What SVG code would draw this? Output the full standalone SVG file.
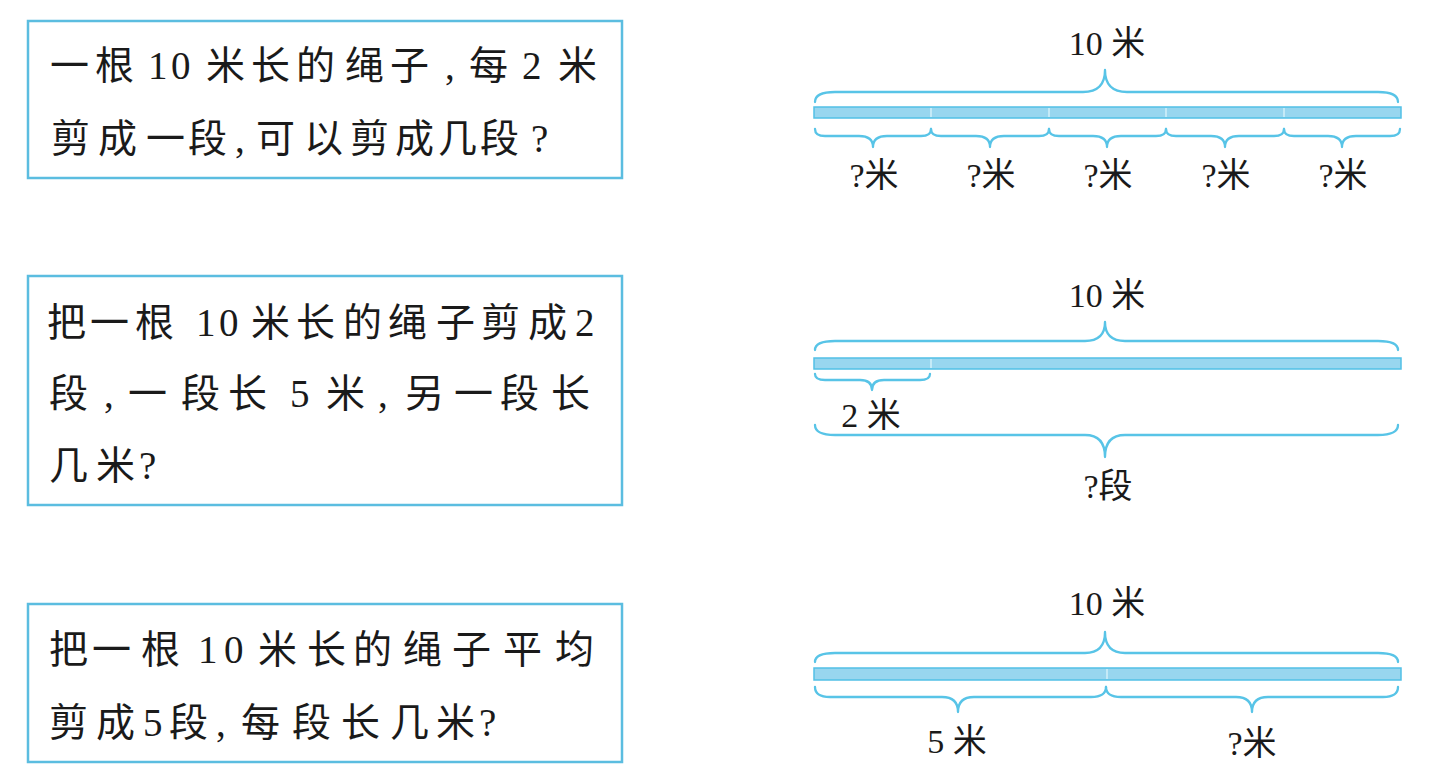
<svg xmlns="http://www.w3.org/2000/svg" width="1441" height="780" viewBox="0 0 1441 780">
<style>
.box{fill:#ffffff;stroke:#5bbde0;stroke-width:2.5}
.q{font-family:"Liberation Serif","Noto Sans CJK SC",serif;font-size:39px;fill:#1a1a1a}
.lbl{font-family:"Liberation Serif","Noto Sans CJK SC",serif;font-size:34px;fill:#1a1a1a;text-anchor:middle}
.bar{fill:#98d6ef;stroke:#52c0e6;stroke-width:1.5}
.div{stroke:#d4f0fa;stroke-width:1.5}
.brace{fill:none;stroke:#58c4e7;stroke-width:2.3;stroke-linecap:round;stroke-linejoin:round}
</style>
<rect width="1441" height="780" fill="#ffffff"/>

<g id="problem1">
<rect class="box" x="28" y="21" width="594" height="157"/>
<text class="q" y="79" x="50 95 148 171 206 251 296 345 390 445 469 522 558">一根10米长的绳子,每2米</text>
<text class="q" y="152" x="51 98 146 188 235 256 304 350 395 438 480 531">剪成一段,可以剪成几段?</text>
</g>

<g id="problem2">
<rect class="box" x="28" y="276" width="594" height="229"/>
<text class="q" y="336" x="47 90 135 196 219 251 296 343 388 436 481 528 575">把一根10米长的绳子剪成2</text>
<text class="q" y="407" x="49 104 128 181 228 290 326 378 405 454 500 551">段,一段长5米,另一段长</text>
<text class="q" y="479" x="49 96 139">几米?</text>
</g>

<g id="problem3">
<rect class="box" x="28" y="604" width="594" height="158"/>
<text class="q" y="663" x="49 92 141 198 224 258 307 353 403 452 503 555">把一根10米长的绳子平均</text>
<text class="q" y="736" x="49 96 143 169 216 241 292 341 390 436 479">剪成5段,每段长几米?</text>
</g>

<g id="diagram1">
<rect class="bar" x="814" y="107" width="587" height="11"/>
<line class="div" x1="931" y1="108" x2="931" y2="117"/>
<line class="div" x1="1049" y1="108" x2="1049" y2="117"/>
<line class="div" x1="1166" y1="108" x2="1166" y2="117"/>
<line class="div" x1="1284" y1="108" x2="1284" y2="117"/>
<text class="lbl" x="1107" y="55">10 米</text>
<text class="lbl" x="874" y="187">?米</text>
<text class="lbl" x="991" y="187">?米</text>
<text class="lbl" x="1108" y="187">?米</text>
<text class="lbl" x="1226" y="187">?米</text>
<text class="lbl" x="1343" y="187">?米</text>
</g>

<g id="diagram2">
<rect class="bar" x="814" y="358" width="587" height="11"/>
<line class="div" x1="931" y1="359" x2="931" y2="368"/>
<text class="lbl" x="1107" y="307">10 米</text>
<text class="lbl" x="871" y="427">2 米</text>
<text class="lbl" x="1108" y="498">?段</text>
</g>

<g id="diagram3">
<rect class="bar" x="814" y="668" width="587" height="12"/>
<line class="div" x1="1107" y1="669" x2="1107" y2="679"/>
<text class="lbl" x="1107" y="615">10 米</text>
<text class="lbl" x="957" y="753">5 米</text>
<text class="lbl" x="1252" y="755">?米</text>
</g>

<g id="connectors">
<path class="brace" d="M815,102 Q815,92 835,92 L1083,92 Q1105,92 1105,70 Q1105,92 1127,92 L1378,92 Q1398,92 1398,102"/>
<path class="brace" d="M815,129 Q815,136 825,136 L859,136 Q873,136 873,147 Q873,136 887,136 L921,136 Q931,136 931,129"/>
<path class="brace" d="M931,129 Q931,136 941,136 L976,136 Q990,136 990,147 Q990,136 1004,136 L1039,136 Q1049,136 1049,129"/>
<path class="brace" d="M1049,129 Q1049,136 1059,136 L1093,136 Q1107,136 1107,147 Q1107,136 1121,136 L1156,136 Q1166,136 1166,129"/>
<path class="brace" d="M1166,129 Q1166,136 1176,136 L1211,136 Q1225,136 1225,147 Q1225,136 1239,136 L1274,136 Q1284,136 1284,129"/>
<path class="brace" d="M1284,129 Q1284,136 1294,136 L1328,136 Q1342,136 1342,147 Q1342,136 1356,136 L1390,136 Q1400,136 1400,129"/>

<path class="brace" d="M815,350 Q815,341 835,341 L1085,341 Q1105,341 1105,322 Q1105,341 1125,341 L1378,341 Q1398,341 1398,350"/>
<path class="brace" d="M815,374 Q815,380 825,380 L860,380 Q872,380 872,390 Q872,380 884,380 L920,380 Q930,380 930,374"/>
<path class="brace" d="M815,425 Q815,435 835,435 L1085,435 Q1105,435 1105,457 Q1105,435 1125,435 L1378,435 Q1398,435 1398,425"/>

<path class="brace" d="M815,662 Q815,653 835,653 L1085,653 Q1105,653 1105,632 Q1105,653 1125,653 L1378,653 Q1398,653 1398,662"/>
<path class="brace" d="M815,687 Q815,697 830,697 L942,697 Q958,697 958,712 Q958,697 974,697 L1091,697 Q1106,697 1106,687"/>
<path class="brace" d="M1106,687 Q1106,697 1121,697 L1236,697 Q1252,697 1252,712 Q1252,697 1268,697 L1383,697 Q1398,697 1398,687"/>
</g>
</svg>
